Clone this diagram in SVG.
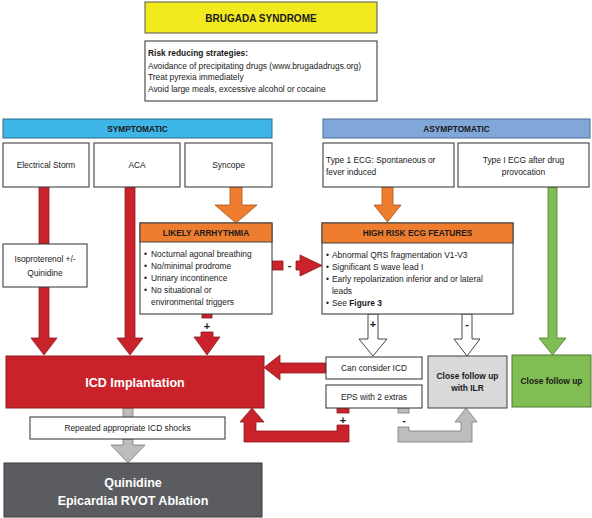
<svg xmlns="http://www.w3.org/2000/svg" width="592" height="518" viewBox="0 0 592 518">
<style>
text{font-family:"Liberation Sans",Arial,sans-serif;fill:#1a1a1a}
.b{stroke:#404040;stroke-width:1.1;fill:#fff}
.t{font-size:8.4px}
.c{text-anchor:middle}
.bold{font-weight:bold}
.hdr{font-size:8.3px;font-weight:bold;text-anchor:middle}
.red{fill:#c9222a;stroke:#8e1b1f;stroke-width:0.8}
.org{fill:#ee7d2f;stroke:#a5531a;stroke-width:0.8}
.wht{fill:#fff;stroke:#333;stroke-width:0.9}
.gry{fill:#bdbdbd;stroke:#7a7a7a;stroke-width:0.8}
.grn{fill:#80bd52;stroke:#4e7a30;stroke-width:0.8}
.sign{font-size:11px;font-weight:bold;text-anchor:middle}
</style>
<g id="connectors">
<rect class="red" x="39" y="187" width="10" height="57"/>
<polygon class="red" points="39,287 49,287 49,338 57,338 44,355 31,338 39,338"/>
<polygon class="red" points="125,187 135,187 135,338 143,338 130,355 117,338 125,338"/>
<polygon class="org" points="230,187 242,187 242,205 257,205 236,223 215,205 230,205"/>
<rect class="red" x="202" y="314" width="10" height="4"/>
<text class="sign" x="207" y="330">+</text>
<polygon class="red" points="201,332 213,332 213,337 220,337 207,355 194,337 201,337"/>
<rect class="red" x="272" y="261" width="11" height="9"/>
<text class="sign" x="289.5" y="269">-</text>
<polygon class="red" points="296,261 300,261 300,255 322,265.5 300,276 300,270 296,270"/>
<polygon class="org" points="382,187 393,187 393,205 401,205 387.5,222 374,205 382,205"/>
<polygon class="wht" points="368,314 378,314 378,339 387,339 373,356 359,339 368,339"/>
<text class="sign" x="373" y="328">+</text>
<polygon class="wht" points="462,314 472,314 472,339 480,339 467,356 454,339 462,339"/>
<text class="sign" x="467" y="328">-</text>
<polygon class="grn" points="548,187 557,187 557,338 566,338 552.5,355 539,338 548,338"/>
<polygon class="red" points="326,363 280,363 280,355 264,367.5 280,380 280,373 326,373"/>
<rect class="red" x="337" y="408" width="12" height="5"/>
<text class="sign" x="343" y="424">+</text>
<polygon class="red" points="349,425 349,442 244,442 244,422 240,422 252,408 264,422 256,422 256,431 337,431 337,425"/>
<rect class="gry" x="398" y="408" width="11" height="5"/>
<text class="sign" x="404" y="424">-</text>
<polygon class="gry" points="398,427 398,442 472,442 472,422 477,422 466,408 455,422 461,422 461,431 409,431 409,427"/>
<rect class="gry" x="123" y="408" width="10" height="10"/>
<polygon class="gry" points="123,439 133,439 133,445 145,445 128,463 111,445 123,445"/>
</g>
<g id="title">
<rect x="145" y="2" width="232" height="31" fill="#f2ea1f" stroke="#555" stroke-width="1"/>
<text class="c bold" x="261" y="21.5" font-size="10">BRUGADA SYNDROME</text>
</g>
<g id="risk">
<rect class="b" x="145" y="41" width="232" height="60"/>
<text class="t bold" x="148" y="56">Risk reducing strategies:</text>
<text class="t" x="148" y="68.5">Avoidance of precipitating drugs (www.brugadadrugs.org)</text>
<text class="t" x="148" y="80">Treat pyrexia immediately</text>
<text class="t" x="148" y="92">Avoid large meals, excessive alcohol or cocaine</text>
</g>
<g id="symptomatic">
<rect x="3" y="119" width="269" height="19" fill="#3db5e6" stroke="#2d6e8c" stroke-width="1"/>
<text class="hdr" x="137.5" y="131.5" font-size="8.6">SYMPTOMATIC</text>
</g>
<g id="asymptomatic">
<rect x="323" y="119" width="267" height="19" fill="#80a7d8" stroke="#4d6c95" stroke-width="1"/>
<text class="hdr" x="456.5" y="131.5" font-size="8.6">ASYMPTOMATIC</text>
</g>
<g id="storm">
<rect class="b" x="3" y="143" width="86" height="44"/>
<text class="t c" x="46" y="168">Electrical Storm</text>
</g>
<g id="aca">
<rect class="b" x="94" y="143" width="86" height="44"/>
<text class="t c" x="137" y="168">ACA</text>
</g>
<g id="syncope">
<rect class="b" x="185" y="143" width="87" height="44"/>
<text class="t c" x="228.5" y="168">Syncope</text>
</g>
<g id="type1">
<rect class="b" x="323" y="143" width="131" height="44"/>
<text class="t" x="326" y="163">Type 1 ECG: Spontaneous or</text>
<text class="t" x="326" y="175">fever induced</text>
</g>
<g id="drug">
<rect class="b" x="458" y="143" width="131" height="44"/>
<text class="t c" x="523.5" y="163">Type I ECG after drug</text>
<text class="t c" x="523.5" y="175">provocation</text>
</g>
<g id="isoproterenol">
<rect class="b" x="3" y="244" width="84" height="43"/>
<text class="t c" x="45" y="262">Isoproterenol +/-</text>
<text class="t c" x="45" y="276">Quinidine</text>
</g>
<g id="likely">
<rect class="b" x="140" y="223" width="132" height="91"/>
<rect x="140" y="223" width="132" height="19" fill="#ee7d2f" stroke="#404040" stroke-width="1"/>
<text class="hdr" x="206" y="235.5">LIKELY ARRHYTHMIA</text>
<text class="t" x="144" y="257">•</text><text class="t" x="151" y="257">Nocturnal agonal breathing</text>
<text class="t" x="144" y="269">•</text><text class="t" x="151" y="269">No/minimal prodrome</text>
<text class="t" x="144" y="281">•</text><text class="t" x="151" y="281">Urinary incontinence</text>
<text class="t" x="144" y="293">•</text><text class="t" x="151" y="293">No situational or</text>
<text class="t" x="151" y="305">environmental triggers</text>
</g>
<g id="highrisk">
<rect class="b" x="322" y="223" width="191" height="91"/>
<rect x="322" y="223" width="191" height="20" fill="#ee7d2f" stroke="#404040" stroke-width="1"/>
<text class="hdr" x="417.5" y="236">HIGH RISK ECG FEATURES</text>
<text class="t" x="326" y="258">•</text><text class="t" x="332" y="258">Abnormal QRS fragmentation V1-V3</text>
<text class="t" x="326" y="270">•</text><text class="t" x="332" y="270">Significant S wave lead I</text>
<text class="t" x="326" y="282">•</text><text class="t" x="332" y="282">Early repolarization inferior and or lateral</text>
<text class="t" x="332" y="294">leads</text>
<text class="t" x="326" y="306">•</text><text class="t" x="332" y="306">See <tspan font-weight="bold">Figure 3</tspan></text>
</g>
<g id="icd">
<rect x="6" y="356" width="258" height="52" fill="#c9222a" stroke="#8e1b1f" stroke-width="1"/>
<text class="c bold" x="135" y="386.5" font-size="12.5" style="fill:#fff">ICD Implantation</text>
</g>
<g id="repeated">
<rect class="b" x="30" y="417" width="195" height="22"/>
<text class="t c" x="127.5" y="431">Repeated appropriate ICD shocks</text>
</g>
<g id="quinidine">
<rect x="4" y="463" width="258" height="54" fill="#5a5c60" stroke="#3a3b3e" stroke-width="1"/>
<text class="c bold" x="133" y="486.5" font-size="12.5" style="fill:#fff">Quinidine</text>
<text class="c bold" x="133" y="504.5" font-size="12.5" style="fill:#fff">Epicardial RVOT Ablation</text>
</g>
<g id="consider">
<rect class="b" x="326" y="357" width="96" height="22"/>
<text class="t c" x="374" y="371">Can consider ICD</text>
</g>
<g id="eps">
<rect class="b" x="326" y="385" width="96" height="23"/>
<text class="t c" x="374" y="399.5">EPS with 2 extras</text>
</g>
<g id="ilr">
<rect x="428" y="356" width="79" height="52" fill="#d9d9d9" stroke="#404040" stroke-width="1"/>
<text class="t c bold" x="467.5" y="379">Close follow up</text>
<text class="t c bold" x="467.5" y="391">with ILR</text>
</g>
<g id="followup">
<rect x="512" y="355" width="79" height="52" fill="#80bd52" stroke="#4e7a30" stroke-width="1"/>
<text class="t c bold" x="551.5" y="384">Close follow up</text>
</g>
</svg>
